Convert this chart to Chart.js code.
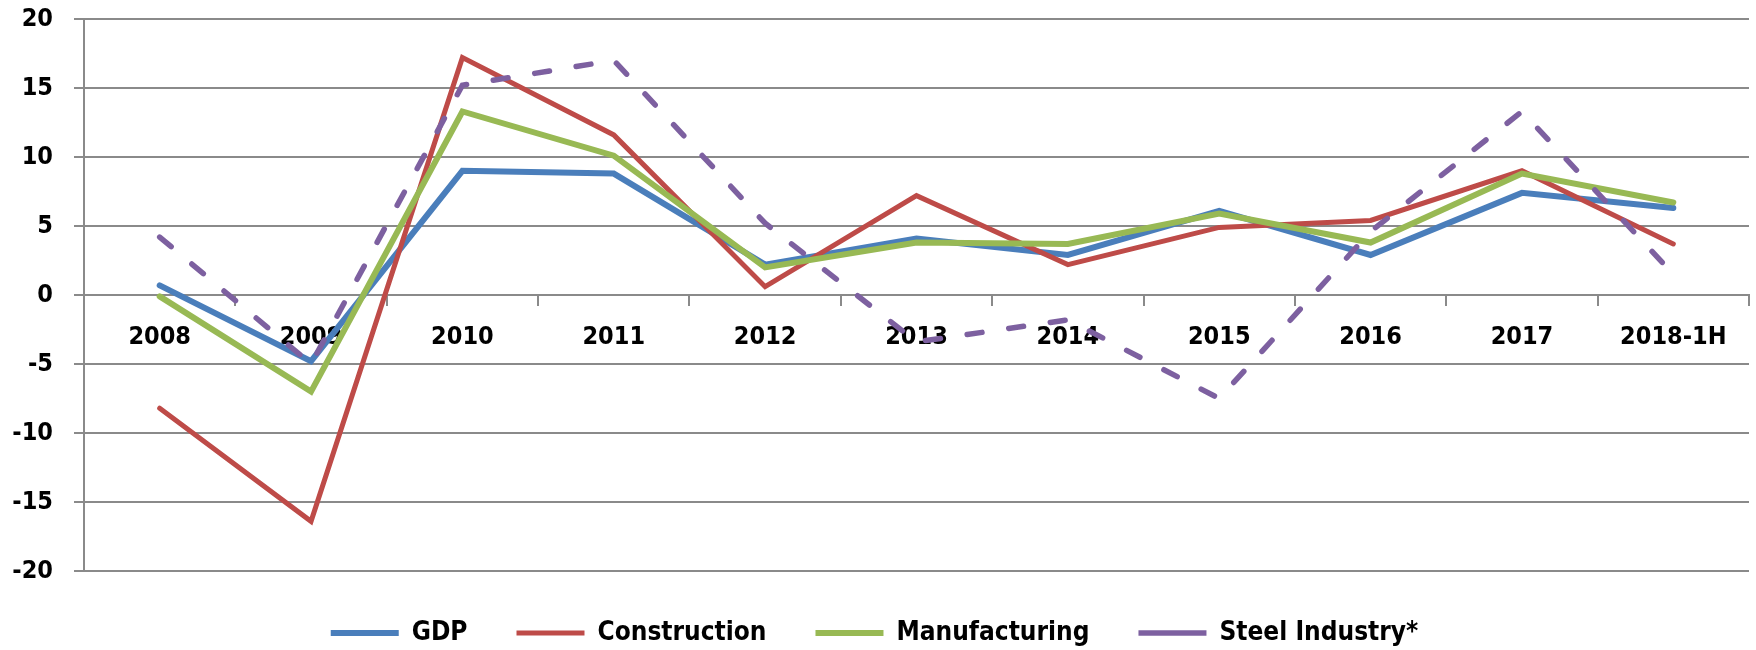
<!DOCTYPE html>
<html>
<head>
<meta charset="utf-8">
<script src="https://cdn.jsdelivr.net/npm/chart.js@4.4.0/dist/chart.umd.min.js"></script>
<style>
  html, body { margin: 0; padding: 0; background: #ffffff; }
  #wrap { width: 1756px; height: 650px; position: relative; }
</style>
</head>
<body>
<div id="wrap"><canvas id="c" width="1756" height="650"></canvas></div>
<script>
const categories = ['2008', '2009', '2010', '2011', '2012', '2013', '2014', '2015', '2016', '2017', '2018-1H'];
const gdp           = [0.7, -4.8, 9.0, 8.8, 2.2, 4.1, 2.9, 6.1, 2.9, 7.4, 6.3];
const construction  = [-8.2, -16.4, 17.2, 11.6, 0.6, 7.2, 2.2, 4.9, 5.4, 9.0, 3.7];
const manufacturing = [-0.1, -7.0, 13.3, 10.1, 2.0, 3.8, 3.7, 5.9, 3.8, 8.8, 6.7];
const steel         = [4.2, -5.0, 15.2, 17.0, 5.2, -3.4, -1.8, -7.5, 4.6, 13.3, 1.5];
const yTicks = [-20, -15, -10, -5, 0, 5, 10, 15, 20];

const FONT = "'DejaVu Sans Condensed', 'DejaVu Sans', sans-serif";
const GRID = '#8a8a8a';

new Chart(document.getElementById('c'), {
  type: 'line',
  data: {
    labels: categories,
    datasets: [
      { label: 'GDP', data: gdp, borderColor: '#4a7ebb', backgroundColor: '#4a7ebb', borderWidth: 6, order: 4, borderCapStyle: 'round' },
      { label: 'Construction', data: construction, borderColor: '#be4b48', backgroundColor: '#be4b48', borderWidth: 5, order: 3, borderCapStyle: 'round' },
      { label: 'Manufacturing', data: manufacturing, borderColor: '#98b954', backgroundColor: '#98b954', borderWidth: 6, order: 2, borderCapStyle: 'round' },
      { label: 'Steel Industry*', data: steel, borderColor: '#7d60a0', backgroundColor: '#7d60a0', borderWidth: 5.5, borderDash: [15, 27], borderCapStyle: 'round', order: 1 }
    ]
  },
  options: {
    responsive: false,
    animation: false,
    devicePixelRatio: 1,
    layout: { padding: { top: 19, right: 7, bottom: -6, left: 0 } },
    elements: { point: { radius: 0, hoverRadius: 0 }, line: { tension: 0, fill: false } },
    plugins: {
      tooltip: { enabled: false },
      legend: {
        position: 'bottom',
        labels: {
          usePointStyle: true,
          pointStyle: 'line',
          pointStyleWidth: 68,
          padding: 49,
          color: '#000',
          font: { family: FONT, size: 26, weight: 'bold' },
          sort: (a, b) => a.datasetIndex - b.datasetIndex
        }
      }
    },
    scales: {
      x: {
        type: 'category',
        position: { y: 0 },
        offset: true,
        grid: { display: true, offset: true, drawOnChartArea: false, drawTicks: true, tickLength: 10, color: GRID, lineWidth: 2 },
        border: { display: true, color: GRID, width: 2 },
        ticks: { color: '#000', font: { family: FONT, size: 25, weight: 'bold' }, padding: 17, maxRotation: 0, autoSkip: false }
      },
      y: {
        min: -20, max: 20,
        afterBuildTicks: (scale) => { scale.ticks = yTicks.map(v => ({ value: v })); },
        afterFit: (scale) => { scale.width = 84; scale.paddingTop = 0; scale.paddingBottom = 0; },
        grid: { color: GRID, lineWidth: 2, drawTicks: true, tickLength: 10 },
        border: { display: true, color: GRID, width: 2 },
        ticks: { color: '#000', font: { family: FONT, size: 25, weight: 'bold' }, padding: 21 }
      }
    }
  }
});
</script>
</body>
</html>
